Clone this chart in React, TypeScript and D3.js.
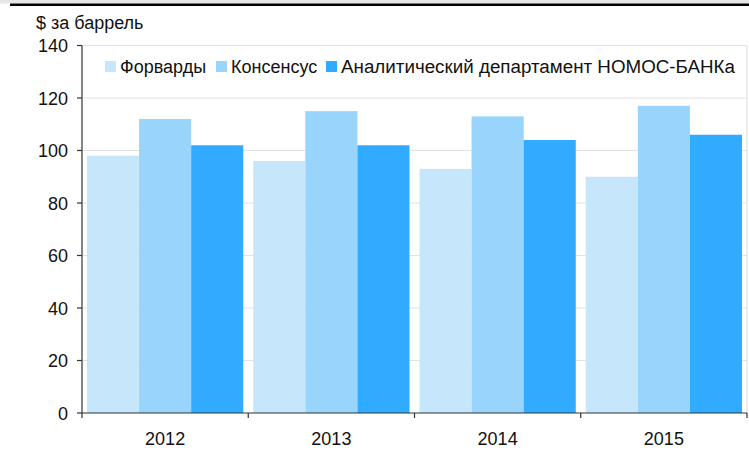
import * as d3 from "d3";

const years = ["2012", "2013", "2014", "2015"];
const seriesNames = ["Форварды", "Консенсус", "Аналитический департамент НОМОС-БАНКа"];
const forwards = [98, 96, 93, 90];
const consensus = [112, 115, 113, 117];
const nomos = [102, 102, 104, 106];
const yTicks = [0, 20, 40, 60, 80, 100, 120, 140];
const colors = ["#c6e6fb", "#99d4fd", "#30abff"];

const W = 749;
const H = 450;
const margin = { top: 45.5, right: 2, bottom: 37, left: 82 };

export default function App() {
  const values = [forwards, consensus, nomos];
  const plotRight = W - margin.right;
  const plotBottom = H - margin.bottom;

  const x = d3.scaleBand().domain(years).range([margin.left, plotRight]);
  const x1 = d3
    .scaleBand()
    .domain(seriesNames)
    .range([5, x.bandwidth() - 5]);
  const y = d3.scaleLinear().domain([0, 140]).range([plotBottom, margin.top]);

  // legend layout (swatch + text); the long label is stretched to the original width
  const legendX = [105, 216, 326];
  const legendLen = [undefined, undefined, 394];
  const font = "'Liberation Sans', Arial, sans-serif";

  return (
    <svg
      width={W}
      height={H}
      style={{ position: "absolute", left: 0, top: 0, background: "#fff" }}
      fontFamily={font}
    >
      {/* top strip */}
      <rect x={0} y={0} width={W} height={3.5} fill="#e6e6e6" />
      <line x1={10} x2={W} y1={4.8} y2={4.8} stroke="#000" strokeWidth={2.6} />

      <text x={36} y={28.5} fontSize={18} fill="#111">
        $ за баррель
      </text>

      {/* grid */}
      {yTicks.slice(1).map((t) => (
        <line
          key={t}
          x1={margin.left}
          x2={plotRight}
          y1={y(t)}
          y2={y(t)}
          stroke="#e2e2e2"
          strokeWidth={1.2}
        />
      ))}
      <line
        x1={plotRight}
        x2={plotRight}
        y1={y(140)}
        y2={plotBottom}
        stroke="#e2e2e2"
        strokeWidth={1.2}
      />

      {/* bars */}
      {values.map((vals, si) =>
        years.map((yr, i) => (
          <rect
            key={yr + si}
            x={x(yr)! + x1(seriesNames[si])!}
            y={y(vals[i])}
            width={x1.bandwidth()}
            height={plotBottom - y(vals[i])}
            fill={colors[si]}
          />
        ))
      )}

      {/* y axis */}
      <line x1={margin.left} x2={margin.left} y1={y(140)} y2={plotBottom} stroke="#333" strokeWidth={1.2} />
      {yTicks.map((t) => (
        <g key={t}>
          <line x1={margin.left - 5} x2={margin.left} y1={y(t)} y2={y(t)} stroke="#333" strokeWidth={1.2} />
          <text x={68} y={y(t) + 6.5} fontSize={18} textAnchor="end" fill="#111">
            {t}
          </text>
        </g>
      ))}

      {/* x axis */}
      <line x1={margin.left} x2={plotRight} y1={plotBottom} y2={plotBottom} stroke="#333" strokeWidth={1.2} />
      {[...years.map((yr) => x(yr)!), plotRight].map((px, i) => (
        <line key={i} x1={px} x2={px} y1={plotBottom} y2={plotBottom + 5} stroke="#333" strokeWidth={1.2} />
      ))}
      {years.map((yr) => (
        <text
          key={yr}
          x={x(yr)! + x.bandwidth() / 2}
          y={445}
          fontSize={18}
          textAnchor="middle"
          fill="#111"
        >
          {yr}
        </text>
      ))}

      {/* legend */}
      {seriesNames.map((s, i) => (
        <g key={s}>
          <rect x={legendX[i]} y={61} width={11} height={11} fill={colors[i]} />
          <text
            x={legendX[i] + 15}
            y={73}
            fontSize={18}
            fill="#111"
            textLength={legendLen[i]}
            lengthAdjust={legendLen[i] ? "spacingAndGlyphs" : undefined}
          >
            {s}
          </text>
        </g>
      ))}
    </svg>
  );
}
